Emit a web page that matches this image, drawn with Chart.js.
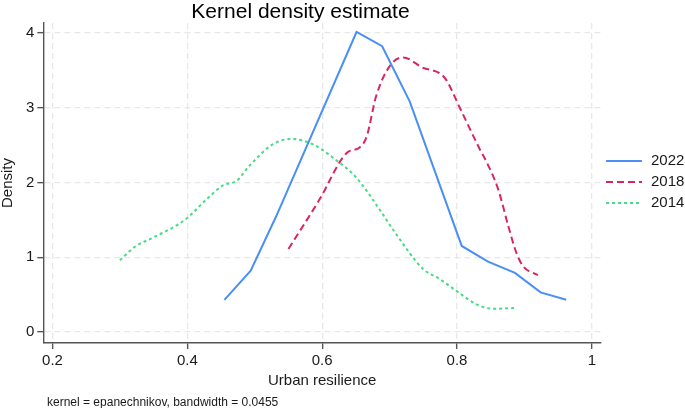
<!DOCTYPE html>
<html>
<head>
<meta charset="utf-8">
<script src="https://cdn.jsdelivr.net/npm/chart.js@4/dist/chart.umd.min.js"></script>
<style>
  html, body { margin: 0; padding: 0; background: #fff; }
  #wrap { width: 685px; height: 408px; }
</style>
</head>
<body>
<div id="wrap"><canvas id="kdeChart" width="685" height="408"></canvas></div>
<script>
// Values
const years = ["2022", "2018", "2014"];

const x2022 = [0.455, 0.494, 0.532, 0.651, 0.689, 0.730, 0.807, 0.846, 0.886, 0.924, 0.962];
const y2022 = [0.43, 0.82, 1.55, 4.01, 3.82, 3.08, 1.15, 0.94, 0.79, 0.53, 0.43];

const x2018 = [0.550, 0.596, 0.636, 0.656, 0.666, 0.680, 0.700, 0.720, 0.750, 0.774, 0.784, 0.804, 0.834, 0.844, 0.861, 0.876, 0.888, 0.898, 0.920];
const y2018 = [1.11, 1.77, 2.39, 2.47, 2.61, 3.15, 3.55, 3.67, 3.53, 3.46, 3.37, 3.00, 2.44, 2.27, 1.91, 1.42, 1.06, 0.88, 0.76];

const x2014 = [0.300, 0.324, 0.349, 0.398, 0.428, 0.453, 0.473, 0.492, 0.527, 0.554, 0.586, 0.616, 0.651, 0.685, 0.705, 0.750, 0.774, 0.799, 0.829, 0.854, 0.886];
const y2014 = [0.96, 1.15, 1.26, 1.51, 1.77, 1.96, 2.02, 2.22, 2.51, 2.58, 2.51, 2.33, 2.06, 1.64, 1.37, 0.84, 0.71, 0.55, 0.37, 0.31, 0.32];

const xTickValues = [0.2, 0.4, 0.6, 0.8, 1];
const xTickLabels = ["0.2", "0.4", "0.6", "0.8", "1"];
const yTickValues = [0, 1, 2, 3, 4];
const yTickLabels = ["0", "1", "2", "3", "4"];

const noteText = "kernel = epanechnikov, bandwidth = 0.0455";

function toPoints(xs, ys) {
    return xs.map((x, i) => ({ x: x, y: ys[i] }));
}

const FONT = "'Liberation Sans', Arial, sans-serif";
const TEXT = "#1a1a1a";
const AXIS = "#555555";
const GRID = "#e8e8e8";

// legend on the right and the note under the axis
const extrasPlugin = {
    id: "extras",
    afterDraw(chart) {
        const ctx = chart.ctx;
        ctx.save();
        const rows = [161, 182, 203];
        chart.data.datasets.forEach((ds, i) => {
            ctx.beginPath();
            ctx.setLineDash(ds.borderDash || []);
            ctx.strokeStyle = ds.borderColor;
            ctx.lineWidth = ds.borderWidth;
            ctx.moveTo(606, rows[i]);
            ctx.lineTo(642, rows[i]);
            ctx.stroke();
            ctx.setLineDash([]);
            ctx.fillStyle = TEXT;
            ctx.font = "15px " + FONT;
            ctx.textBaseline = "middle";
            ctx.textAlign = "left";
            ctx.fillText(ds.label, 651, rows[i]);
        });
        ctx.font = "12px " + FONT;
        ctx.fillStyle = TEXT;
        ctx.textBaseline = "middle";
        ctx.fillText(noteText, 47, 402.5);
        ctx.restore();
    }
};

const axisGrid = {
    color: GRID,
    lineWidth: 1.3,
    tickLength: 6,
    tickColor: AXIS,
    tickWidth: 1.4,
    tickBorderDash: []
};
const axisBorder = { display: true, color: AXIS, width: 1.4, dash: [6, 4] };

const ctx = document.getElementById("kdeChart").getContext("2d");
new Chart(ctx, {
    type: "scatter",
    data: {
        datasets: [
            {
                label: years[0],
                data: toPoints(x2022, y2022),
                showLine: true,
                borderColor: "#4a8ff6",
                borderWidth: 2,
                pointRadius: 0,
                tension: 0
            },
            {
                label: years[1],
                data: toPoints(x2018, y2018),
                showLine: true,
                borderColor: "#d9275e",
                borderWidth: 2,
                borderDash: [7, 4],
                pointRadius: 0,
                cubicInterpolationMode: "monotone"
            },
            {
                label: years[2],
                data: toPoints(x2014, y2014),
                showLine: true,
                borderColor: "#46dc87",
                borderWidth: 2,
                borderDash: [3, 3],
                pointRadius: 0,
                cubicInterpolationMode: "monotone"
            }
        ]
    },
    options: {
        responsive: false,
        animation: false,
        layout: { padding: { left: 0, right: 84, top: 0, bottom: 18.5 } },
        plugins: {
            legend: { display: false },
            tooltip: { enabled: false },
            title: {
                display: true,
                text: "Kernel density estimate",
                color: "#000",
                font: { family: FONT, size: 21, weight: "normal", lineHeight: 1 },
                padding: { top: 1.5, bottom: 0.5 }
            }
        },
        scales: {
            x: {
                type: "linear",
                min: 0.1864,
                max: 1.0136,
                afterBuildTicks: scale => { scale.ticks = xTickValues.map(v => ({ value: v })); },
                afterFit: scale => { scale.height = 46.5; },
                ticks: {
                    color: TEXT,
                    font: { family: FONT, size: 15 },
                    padding: 3,
                    maxRotation: 0,
                    callback: (v, i) => xTickLabels[i]
                },
                grid: axisGrid,
                border: axisBorder,
                title: {
                    display: true,
                    text: "Urban resilience",
                    color: TEXT,
                    font: { family: FONT, size: 15 },
                    padding: 0
                }
            },
            y: {
                type: "linear",
                min: -0.147,
                max: 4.13,
                afterBuildTicks: scale => { scale.ticks = yTickValues.map(v => ({ value: v })); },
                afterFit: scale => { scale.width = 43.3; },
                ticks: {
                    color: TEXT,
                    font: { family: FONT, size: 15 },
                    padding: 3,
                    callback: (v, i) => yTickLabels[i]
                },
                grid: axisGrid,
                border: axisBorder,
                title: {
                    display: true,
                    text: "Density",
                    color: TEXT,
                    font: { family: FONT, size: 15, lineHeight: 1 },
                    padding: 0
                }
            }
        }
    },
    plugins: [extrasPlugin]
});
</script>
</body>
</html>
